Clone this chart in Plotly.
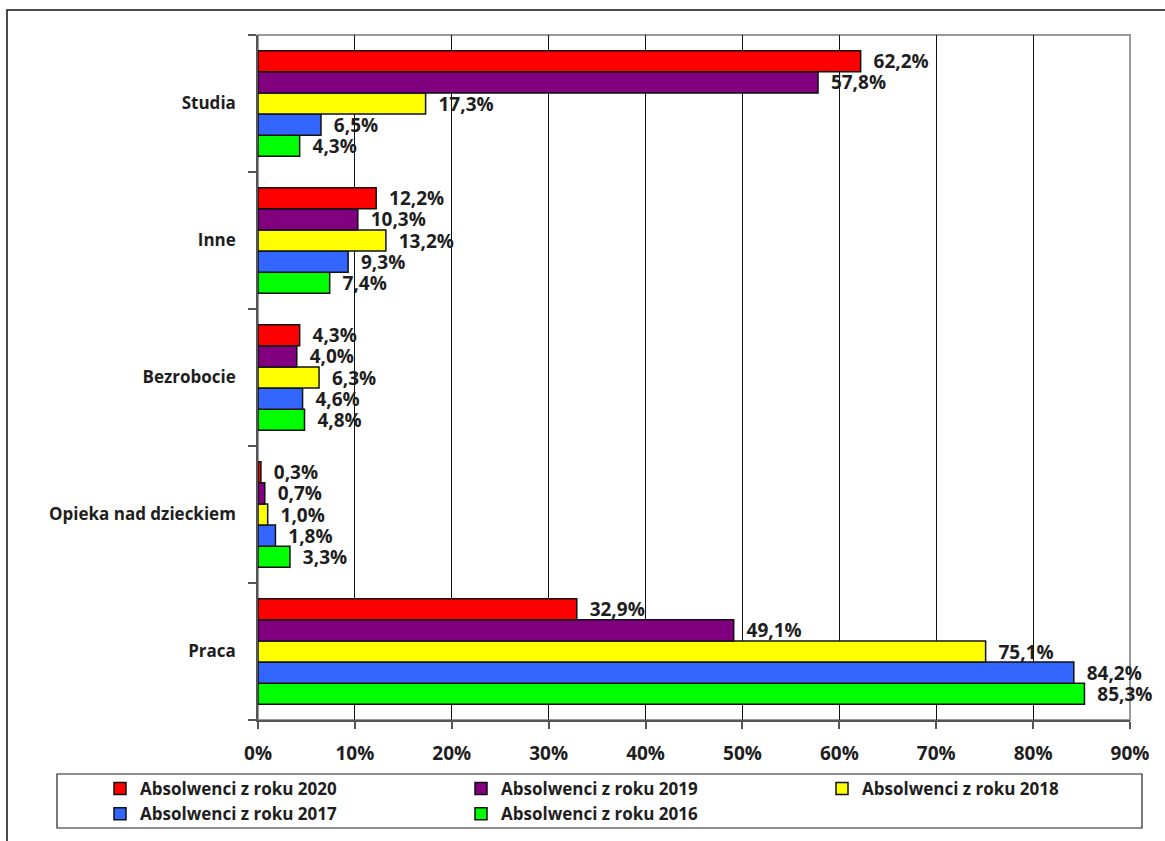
import plotly.graph_objects as go

# Categories, bottom to top on the y axis
categories = ["Praca", "Opieka nad dzieckiem", "Bezrobocie", "Inne", "Studia"]

# Share of graduates (%) per category, one list per graduation year
years = ["2016", "2017", "2018", "2019", "2020"]
values_2016 = [85.3, 3.3, 4.8, 7.4, 4.3]
values_2017 = [84.2, 1.8, 4.6, 9.3, 6.5]
values_2018 = [75.1, 1.0, 6.3, 13.2, 17.3]
values_2019 = [49.1, 0.7, 4.0, 10.3, 57.8]
values_2020 = [32.9, 0.3, 4.3, 12.2, 62.2]
series = [values_2016, values_2017, values_2018, values_2019, values_2020]
colors = ["#00FF00", "#3366FF", "#FFFF00", "#800080", "#FF0000"]

x_ticks = [0, 10, 20, 30, 40, 50, 60, 70, 80, 90]
x_tick_labels = [f"{v}%" for v in x_ticks]

W, H = 1165, 841
ML, MR, MT, MB = 258, 35, 35, 121
PW, PH = W - ML - MR, H - MT - MB

FONT = "Open Sans"
TXT = "#1e1e1e"
NB = "\u00a0"

fig = go.Figure()
for year, vals, col in zip(years, series, colors):
    fig.add_trace(go.Bar(
        y=categories, x=vals, orientation="h",
        name=f"Absolwenci z roku {year}",
        marker=dict(color=col, line=dict(color="#111111", width=1.5)),
        text=vals, texttemplate=NB * 2 + "%{x:.1f}%", textposition="outside",
        textfont=dict(family=FONT, size=19, color=TXT, weight="bold"),
        cliponaxis=False, constraintext="none",
    ))


def px_x(p):
    return (p - ML) / PW


def px_y(p):
    return (H - MB - p) / PH


shapes = [
    # plot area frame
    dict(type="rect", xref="paper", yref="paper", x0=0, x1=1, y0=0, y1=1,
         line=dict(color="#9a9a9a", width=2), layer="below"),
    # outer chart frame
    dict(type="rect", xref="paper", yref="paper",
         x0=px_x(7), x1=px_x(1180), y0=px_y(860), y1=px_y(10),
         line=dict(color="#111111", width=1.5), layer="below"),
    # legend frame
    dict(type="rect", xref="paper", yref="paper",
         x0=px_x(57), x1=px_x(1142), y0=px_y(828), y1=px_y(774),
         line=dict(color="#222222", width=1.2), layer="below"),
]

fig.update_layout(
    width=W, height=H,
    margin=dict(l=ML, r=MR, t=MT, b=MB, pad=0, autoexpand=False),
    paper_bgcolor="white", plot_bgcolor="white",
    separators=", ",
    barmode="group", bargap=0.23, bargroupgap=0,
    font=dict(family=FONT, size=17, color=TXT),
    xaxis=dict(
        range=[0, 90], tickvals=x_ticks, ticktext=x_tick_labels,
        showgrid=True, gridcolor="#111111", gridwidth=1,
        showline=True, linecolor="#555555", linewidth=1.5,
        ticks="outside", ticklen=7, tickcolor="#555555", tickwidth=1.5,
        ticklabelstandoff=8,
        tickfont=dict(family=FONT, size=19, color=TXT, weight="bold"),
        zeroline=False, fixedrange=True,
    ),
    yaxis=dict(
        categoryorder="array", categoryarray=categories,
        showline=True, linecolor="#555555", linewidth=1.5,
        ticks="outside", ticklen=8, tickcolor="#555555", tickwidth=1.5,
        tickson="boundaries", showgrid=False,
        ticklabelstandoff=17,
        tickfont=dict(family=FONT, size=17, color=TXT, weight="bold"),
        fixedrange=True,
    ),
    legend=dict(
        orientation="h", traceorder="reversed",
        x=px_x(100), xanchor="left", y=px_y(771), yanchor="top",
        entrywidth=316, entrywidthmode="pixels",
        itemwidth=30, tracegroupgap=0,
        font=dict(family=FONT, size=17, color=TXT, weight="bold"),
        bgcolor="rgba(0,0,0,0)", borderwidth=0,
    ),
    shapes=shapes,
    showlegend=True,
)

fig.write_html("out.html")
